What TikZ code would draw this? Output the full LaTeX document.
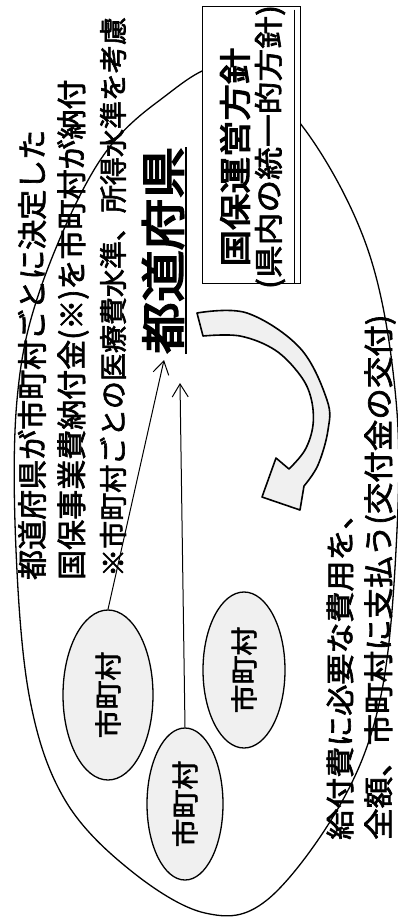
\documentclass[tikz,border=0pt]{standalone}
\usepackage{fontspec}
\usepackage{graphicx}
\usetikzlibrary{shapes.geometric,arrows.meta}
\newfontfamily\jp[FakeBold=2.2]{Noto Sans CJK JP}
\newfontfamily\jpb[FakeBold=3.5]{Noto Sans CJK JP}
\newcommand\rtx[3]{\fontsize{#1}{#1}\selectfont\scalebox{#2}[1]{#3}}
\begin{document}
\begin{tikzpicture}[x=1pt,y=-1pt,
  vt/.style={rotate=90, inner sep=0pt, font=\jp},
  town/.style={ellipse, draw, line width=1.3pt, fill=gray!12, inner sep=0pt},
  thin arrow/.style={line width=1pt, -{Straight Barb[length=13pt,width=16pt,line width=1pt]}}]
\useasboundingbox (0,0) rectangle (398,921);

% big enclosing ellipse
\draw[line width=1.3pt] plot[smooth cycle, tension=0.6] coordinates {
 (230,66) (303,127) (368,250) (396,400) (396,550) (380,700) (340,805)
 (267,900) (205,913) (130,870) (65,800) (30,700) (16,550) (17,400)
 (40,290) (97,165) (160,100)};

% policy box
\node[draw, fill=white, line width=1pt, minimum width=98pt, minimum height=277pt, inner sep=0pt] (box) at (251,144.5) {};
\draw[line width=1.2pt] ([xshift=-6pt,yshift=-4pt]box.north east) -- ([xshift=-6pt]box.south east);
\node[vt, font=\jpb] (b1) at (235,157) {\rtx{32}{1.14}{国保運営方針}};
\node[vt] (b2) at (270,147) {\rtx{29}{1.13}{(県内の統一的方針)}};

% left texts
\node[vt, anchor=west] (l1) at (32,580) {\rtx{30}{1.0}{都道府県が市町村ごとに決定した}};
\node[vt, anchor=west] (l2) at (73,580) {\rtx{30}{1.0}{国保事業費納付金(※)を市町村が納付}};
\node[vt, anchor=west] (l3) at (113,577) {\rtx{28}{1.0}{※市町村ごとの医療費水準、所得水準を考慮}};

% prefecture
\node[vt, font=\jpb, anchor=west] (pref) at (163,354) {\rtx{45}{1.15}{都道府県}};
\draw[line width=2.5pt] ([xshift=2pt]pref.south west) -- ([xshift=2pt]pref.south east);

% right texts
\node[vt, anchor=west] (r1) at (340,840) {\rtx{29}{1.07}{給付費に必要な費用を、}};
\node[vt, anchor=west] (r2) at (380,840) {\rtx{30}{1.05}{全額、市町村に支払う(交付金の交付)}};

% big curved arrow
\draw[line width=1.6pt, fill=gray!12, line join=round]
  plot[smooth, tension=0.6] coordinates {(197,313) (247,313) (300,348) (327,400) (328,430) (318,465) (304,486)}
  -- (300,510) -- (262,497) -- (276,458) -- (289,469)
  -- plot[smooth, tension=0.6] coordinates {(289,469) (305,450) (313,425) (311,398) (300,375) (275,350) (240,336) (203,336)}
  -- cycle;

% municipalities
\node[town, minimum width=90pt, minimum height=170pt] (A) at (108,695) {};
\node[town, minimum width=76pt, minimum height=152pt] (B) at (185,804) {};
\node[town, minimum width=82pt, minimum height=156pt] (C) at (244,670) {};
\node[vt] (At) at (A.center) {\rtx{27}{1.07}{市町村}};
\node[vt] (Bt) at (B.center) {\rtx{27}{1.07}{市町村}};
\node[vt] (Ct) at (C.center) {\rtx{27}{1.07}{市町村}};

\coordinate (tipA) at (164,360);
\coordinate (tipB) at (180,383);
\draw[thin arrow] (A.north) -- (tipA);
\draw[thin arrow] (B.north) -- (tipB);
\end{tikzpicture}
\end{document}
